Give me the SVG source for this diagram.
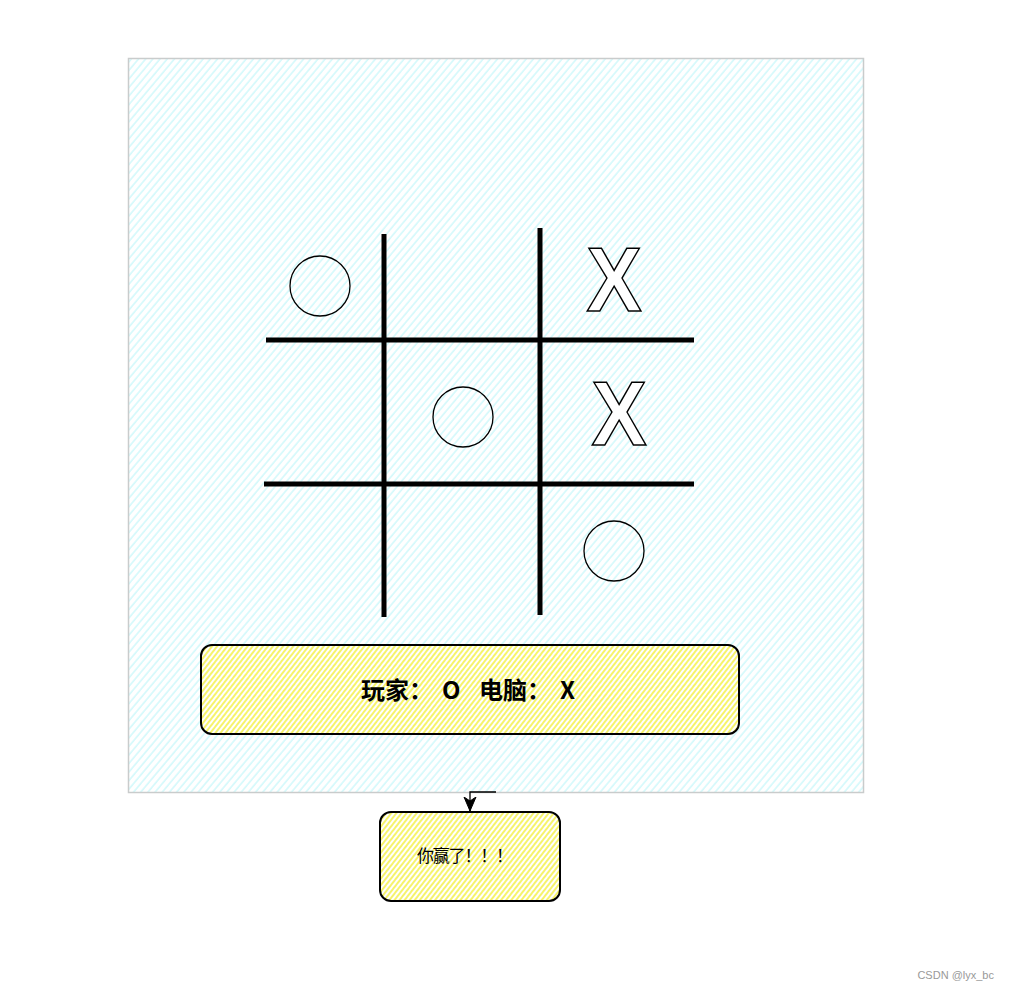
<svg xmlns="http://www.w3.org/2000/svg" width="1009" height="992" viewBox="0 0 1009 992">
<style>
.grid{stroke:#000;stroke-width:5;fill:none}
.o{fill:none;stroke:#000;stroke-width:1.3}
.x{font-family:"Liberation Sans",Arial,sans-serif;font-weight:bold;font-size:90px;fill:#fff;stroke:#000;stroke-width:1.5;text-anchor:middle}
.cjk{font-family:"Noto Sans CJK SC","Noto Sans",sans-serif}
</style>
<defs>
<pattern id="hc" width="5.5" height="5.5" patternUnits="userSpaceOnUse" patternTransform="rotate(40)">
<rect width="5.5" height="5.5" fill="#fff"/>
<line x1="1" y1="0" x2="1" y2="5.5" stroke="#cdf9fb" stroke-width="1.4"/>
</pattern>
<pattern id="hy" width="4" height="4" patternUnits="userSpaceOnUse" patternTransform="rotate(38)">
<rect width="4" height="4" fill="#fff"/>
<line x1="1" y1="0" x2="1" y2="4" stroke="#f3f03a" stroke-width="1.5"/>
</pattern>
<marker id="arr" markerWidth="15" markerHeight="14" refX="14" refY="7" orient="auto" markerUnits="userSpaceOnUse" viewBox="0 0 15 14">
<path d="M0,1 L14,7 L0,13 L4,7 Z" fill="#000" stroke="#000" stroke-width="1"/>
</marker>
</defs>
<g id="board">
<rect x="128.5" y="58.5" width="735" height="734" fill="url(#hc)" stroke="#c9cccc" stroke-width="1.5"/>
</g>
<g id="grid">
<line class="grid" x1="384" y1="234" x2="384" y2="617"/>
<line class="grid" x1="540" y1="228" x2="540" y2="615"/>
<line class="grid" x1="266" y1="340" x2="694" y2="340"/>
<line class="grid" x1="264" y1="484" x2="694" y2="484"/>
</g>
<g id="o1"><circle class="o" cx="320" cy="286" r="30"/></g>
<g id="o2"><circle class="o" cx="463" cy="417" r="30"/></g>
<g id="o3"><circle class="o" cx="614" cy="551" r="30"/></g>
<g id="x1"><text class="x" transform="translate(614 311) scale(0.92 1)">X</text></g>
<g id="x2"><text class="x" transform="translate(619 445) scale(0.92 1)">X</text></g>
<g id="status">
<rect x="201" y="645" width="538" height="89" rx="11" fill="url(#hy)" stroke="#000" stroke-width="2"/>
<text class="cjk" y="699" font-size="24" font-weight="bold"><tspan x="361">玩家：</tspan><tspan x="442">O</tspan><tspan x="479">电脑：</tspan><tspan x="560">X</tspan></text>
</g>
<g id="connectors">
<path d="M496,792 H470 V811" fill="none" stroke="#000" stroke-width="1.3" marker-end="url(#arr)"/>
</g>
<g id="result">
<rect x="380" y="812" width="180" height="89" rx="11" fill="url(#hy)" stroke="#000" stroke-width="2"/>
<text class="cjk" x="417" y="862" font-size="17" textLength="96" lengthAdjust="spacing">你赢了！！！</text>
</g>
<text x="994" y="979" font-family="'Liberation Sans',Arial,sans-serif" font-size="11" fill="#999" text-anchor="end">CSDN @lyx_bc</text>
</svg>
